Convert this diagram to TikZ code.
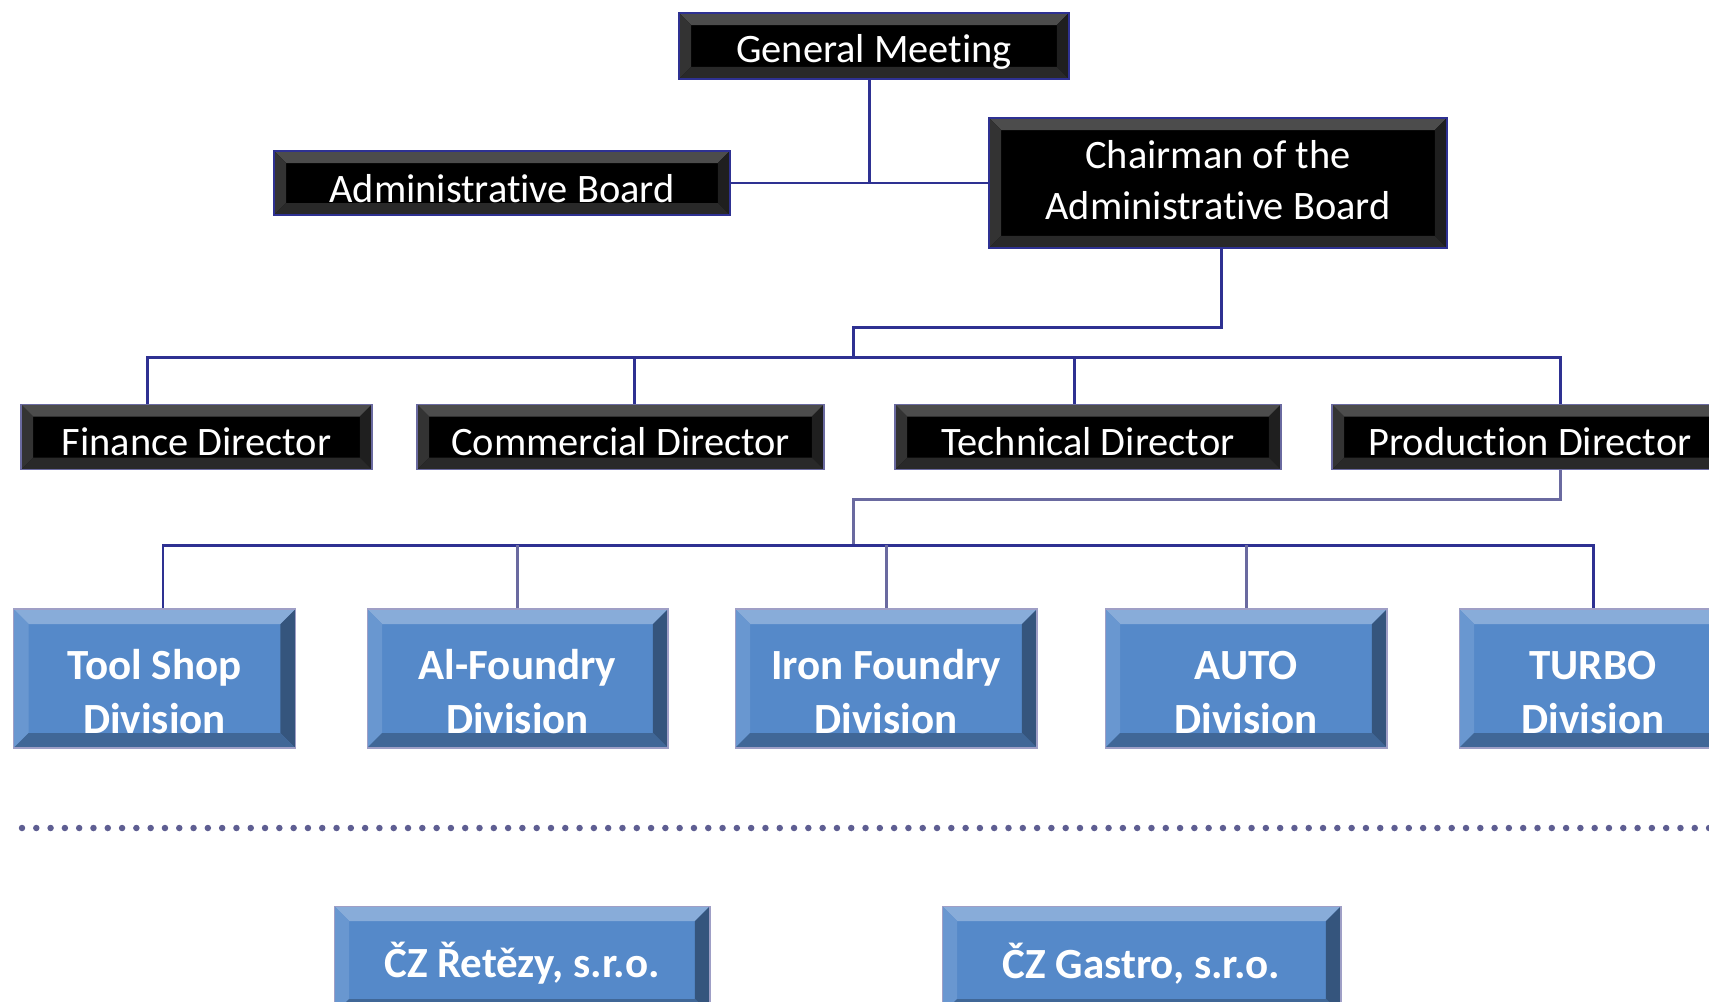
\documentclass[tikz,border=0pt]{standalone}
\usepackage{fontspec}
\setmainfont{Carlito}[Ligatures=NoCommon]
\usepackage{xcolor}

\definecolor{navy}{HTML}{2E3192}
\definecolor{greyviolet}{HTML}{6A6AA0}
\definecolor{dotc}{HTML}{5E5E92}
\definecolor{divface}{HTML}{5589C9}

% bevelled faces drawn inside a node: size, top, left, right, bottom
\newcommand{\bevelfaces}[5]{%
  \path (path picture bounding box.north west) coordinate (bnw)
        (path picture bounding box.north east) coordinate (bne)
        (path picture bounding box.south west) coordinate (bsw)
        (path picture bounding box.south east) coordinate (bse);
  \fill[#2] (bnw) -- (bne) -- ([shift={(-#1,-#1)}]bne) -- ([shift={(#1,-#1)}]bnw) -- cycle;
  \fill[#3] (bnw) -- (bsw) -- ([shift={(#1,#1)}]bsw) -- ([shift={(#1,-#1)}]bnw) -- cycle;
  \fill[#4] (bne) -- (bse) -- ([shift={(-#1,#1)}]bse) -- ([shift={(-#1,-#1)}]bne) -- cycle;
  \fill[#5] (bsw) -- (bse) -- ([shift={(-#1,#1)}]bse) -- ([shift={(#1,#1)}]bsw) -- cycle;
}
% invisible struts to move a node's text down (\lift) or up (\sink)
\newcommand{\lift}{\rule{0pt}{1.13cm}}
\newcommand{\sink}{\rule[-0.12cm]{0pt}{0.12cm}}

\begin{document}
\begin{tikzpicture}[
    x=0.02cm, y=-0.02cm,
    board/.style={draw=navy,line width=1.3pt,fill=black,text=white,inner sep=0pt,align=center,
      font=\fontsize{23pt}{28.5pt}\selectfont,
      path picture={\bevelfaces{0.24cm}{black!70}{black!80}{black!88}{black!84}}},
    director/.style={board,draw=greyviolet,line width=1pt,minimum height=1.3cm},
    division/.style={draw=blue!25!gray!60,line width=0.6pt,fill=divface,text=white,inner sep=0pt,align=center,
      font=\fontsize{24.5pt}{31pt}\selectfont\bfseries,minimum height=2.78cm,
      path picture={\bevelfaces{0.3cm}{divface!70!white}{divface!88!white}{divface!62!black}{divface!75!black}}},
    firm/.style={division,minimum height=2.16cm},
    drop/.style={execute at begin node={\rule{0pt}{#1}}},
    link/.style={draw=navy,line width=1.7pt},
    sublink/.style={draw=greyviolet,line width=1.7pt},
    sep/.style={draw=dotc,line width=0.13cm,line cap=round,dash pattern=on 0pt off 0.286cm}
  ]
    \path[use as bounding box,clip] (0,0) rectangle (1709,1001);

    \node[board,drop=0.78cm,minimum width=7.8cm,minimum height=1.32cm] (gm) at (874,46) {General Meeting};
    \node[board,drop=0.77cm,minimum width=9.12cm,minimum height=1.28cm] (admin) at (502,183) {Administrative Board};
    \node[board,minimum width=9.16cm,minimum height=2.6cm] (chair) at (1218,183) {Chairman of the\\Administrative Board\sink};

    \node[director,drop=0.75cm,minimum width=7.02cm] (fin) at (196.5,437) {Finance Director};
    \node[director,drop=0.75cm,minimum width=8.14cm] (com) at (620.5,437) {Commercial Director};
    \node[director,drop=0.75cm,minimum width=7.72cm] (tech) at (1088,437) {Technical Director};
    \node[director,drop=0.75cm,minimum width=7.92cm] (prod) at (1530,437) {Production Director};

    \node[division,minimum width=5.64cm] (tool) at (154.5,678.5) {\lift Tool Shop\\Division};
    \node[division,minimum width=6.02cm] (alf) at (517.5,678.5) {\lift Al-Foundry\\Division};
    \node[division,minimum width=6.04cm] (iron) at (886,678.5) {\lift Iron Foundry\\Division};
    \node[division,minimum width=5.64cm] (auto) at (1246,678.5) {\lift AUTO\\Division};
    \node[division,minimum width=5.36cm] (turbo) at (1593,678.5) {\lift TURBO\\Division};

    \draw[sep] (22,828) -- (1720,828);

    \node[firm,drop=0.85cm,minimum width=7.52cm] (ret) at (522,960) {ČZ Řetězy, s.r.o.};
    \node[firm,drop=0.85cm,minimum width=7.98cm] (gastro) at (1141.5,960) {ČZ Gastro, s.r.o.};

    \coordinate (knee1) at (853,327);
    \coordinate (bus1) at (853,357);
    \coordinate (knee2) at (853,499);
    \coordinate (bus2) at (853,545);

    \draw[link] ([xshift=-0.1cm]gm.south) -- ([xshift=-0.1cm]gm.south |- admin.east);
    \draw[link] (admin.east) -- (chair.west);
    \draw[link] ([xshift=0.06cm]chair.south) |- (knee1) -- (bus1);
    \draw[link] ([xshift=-0.98cm]fin.north) |- (bus1) -| ([xshift=0.6cm]prod.north);
    \draw[link] ([xshift=0.27cm]com.north) -- ([xshift=0.27cm]com.north |- bus1);
    \draw[link] ([xshift=-0.28cm]tech.north) -- ([xshift=-0.28cm]tech.north |- bus1);
    \draw[sublink] ([xshift=0.6cm]prod.south) |- (knee2) -- (bus2);
    \draw[link] ([xshift=0.17cm]tool.north) |- (bus2) -| (turbo.north);
    \foreach \d in {alf,iron,auto}
      \draw[sublink] (\d.north) -- (\d.north |- bus2);
  \end{tikzpicture}
\end{document}
